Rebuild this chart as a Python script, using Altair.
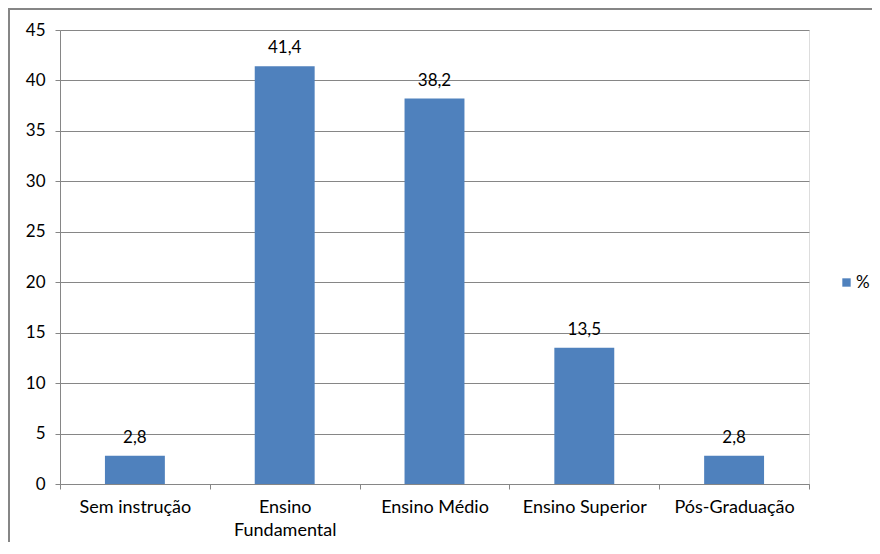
import altair as alt
import pandas as pd

categorias = ["Sem instrução", "Ensino Fundamental", "Ensino Médio", "Ensino Superior", "Pós-Graduação"]
valores = [2.8, 41.4, 38.2, 13.5, 2.8]
serie = "%"
titulo_negrito = "Escolaridade:"
titulo_normal = "(último segmento completo)"
y_ticks = [0, 5, 10, 15, 20, 25, 30, 35, 40, 45]

df = pd.DataFrame({
    "categoria": categorias,
    "valor": valores,
    "serie": [serie] * len(categorias),
    "rotulo": [f"{v:.1f}".replace(".", ",") for v in valores],
})

FONT = "Lato"
GRID = "#868686"
BLUE = "#4F81BD"

x_enc = alt.X(
    "categoria:N",
    sort=categorias,
    scale=alt.Scale(paddingInner=0, paddingOuter=0),
    axis=alt.Axis(
        title=None,
        labelAngle=0,
        tickBand="extent",
        tickSize=5,
        tickColor=GRID,
        domainColor=GRID,
        labelFont=FONT,
        labelFontSize=18,
        labelColor="#000000",
        labelPadding=9,
        labelLineHeight=23,
        labelExpr="datum.label == 'Ensino Fundamental' ? ['Ensino', 'Fundamental'] : datum.label",
    ),
)
y_enc = alt.Y(
    "valor:Q",
    scale=alt.Scale(domain=[0, 45]),
    axis=alt.Axis(
        title=None,
        values=y_ticks,
        grid=True,
        gridColor=GRID,
        gridOpacity=1,
        tickSize=5,
        tickColor=GRID,
        domainColor=GRID,
        labelFont=FONT,
        labelFontSize=17,
        labelColor="#000000",
        labelPadding=10,
    ),
)

base = alt.Chart(df)

bars = base.mark_bar(width=alt.RelativeBandSize(0.4)).encode(
    x=x_enc,
    y=y_enc,
    color=alt.Color(
        "serie:N",
        scale=alt.Scale(range=[BLUE]),
        legend=alt.Legend(
            title=None,
            orient="none",
            legendX=778,
            legendY=244,
            symbolType="square",
            symbolSize=70,
            symbolStrokeWidth=0,
            labelFont=FONT,
            labelFontSize=17,
            labelColor="#000000",
            labelOffset=1,
            padding=0,
        ),
    ),
)

labels = base.mark_text(dy=-13, baseline="alphabetic", font=FONT, fontSize=17, color="#000000").encode(
    x=alt.X("categoria:N", sort=categorias),
    y=alt.Y("valor:Q"),
    text="rotulo:N",
)

border_top = base.mark_rule(stroke=GRID, strokeWidth=2).encode(
    x=alt.value(-52), x2=alt.value(820), y=alt.value(-21)
)
border_left = base.mark_rule(stroke=GRID, strokeWidth=2).encode(
    x=alt.value(-51), y=alt.value(-22), y2=alt.value(600)
)

t1 = base.mark_text(text=titulo_negrito, align="left", baseline="alphabetic", font="Liberation Sans",
                    fontSize=17, fontWeight="bold", color="#000000").encode(
    x=alt.value(-55), y=alt.value(-25)
)
t2 = base.mark_text(text=titulo_normal, align="left", baseline="alphabetic", font="Liberation Sans",
                    fontSize=17, color="#000000").encode(
    x=alt.value(66), y=alt.value(-25)
)

chart = alt.layer(border_top, border_left, bars, labels, t1, t2).properties(
    width=749,
    height=454,
    padding={"left": 52, "top": 22, "right": 63, "bottom": 58},
    autosize=alt.AutoSizeParams(type="none"),
).configure_view(stroke=None).configure(background="white")

chart.save("out.html", embed_options={"renderer": "svg", "actions": False})
